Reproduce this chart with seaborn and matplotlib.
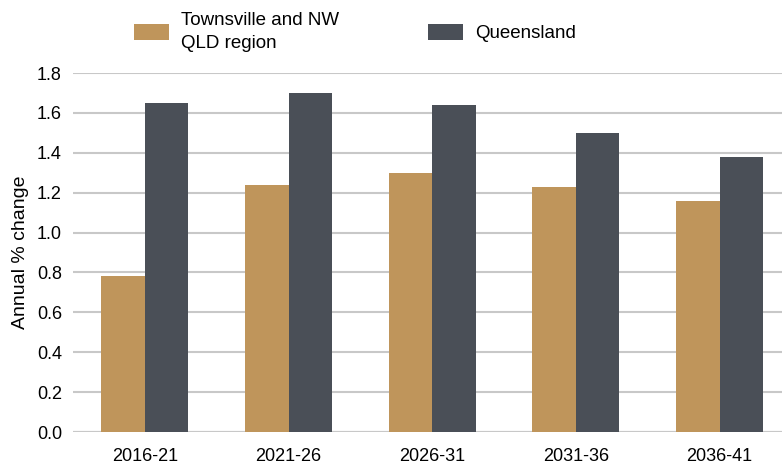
import pandas as pd
import matplotlib.pyplot as plt
import seaborn as sns

periods = ['2016-21', '2021-26', '2026-31', '2031-36', '2036-41']
townsville = [0.78, 1.24, 1.30, 1.23, 1.16]
queensland = [1.65, 1.70, 1.64, 1.50, 1.38]
series_names = ['Townsville and NW\nQLD region', 'Queensland']

df = pd.DataFrame({
    'period': periods * 2,
    'value': townsville + queensland,
    'series': [series_names[0]] * len(periods) + [series_names[1]] * len(periods),
})

sns.set_style('white')
plt.rcParams['font.family'] = ['Liberation Sans', 'DejaVu Sans']
plt.rcParams['text.color'] = 'black'
plt.rcParams['axes.labelcolor'] = 'black'
plt.rcParams['xtick.labelcolor'] = 'black'
plt.rcParams['ytick.labelcolor'] = 'black'

fig = plt.figure(figsize=(7.82, 4.71), dpi=100)
ax = fig.add_axes([0.0934, 0.0828, 0.9066, 0.7622])

sns.barplot(data=df, x='period', y='value', hue='series',
            palette=['#BF955B', '#4A4F57'], width=0.605, saturation=1,
            linewidth=0, ax=ax, legend=True)

ax.set_ylim(0, 1.8)
ax.set_xlim(-0.5, 4.435)
ax.set_yticks([i / 5 for i in range(10)])
ax.set_yticklabels([f'{i / 5:.1f}' for i in range(10)])
ax.yaxis.grid(True, color='#C8C8C8', linewidth=1.5)
ax.set_axisbelow(True)
for s in ax.spines.values():
    s.set_visible(False)
ax.axhline(0, color='#C8C8C8', linewidth=1.5, zorder=0)

ax.set_xlabel('')
ax.set_ylabel('Annual % change', fontsize=14, labelpad=5.5)
ax.tick_params(axis='x', length=7.2, width=1.5, color='#C8C8C8', labelsize=13, pad=4)
ax.tick_params(axis='y', length=0, labelsize=13, pad=8)

leg = ax.legend(loc='upper left', bbox_to_anchor=(125 / 782, 1 - 3 / 471),
                bbox_transform=fig.transFigure, ncol=2, frameon=False, borderpad=0,
                fontsize=13.5, handlelength=1.87, handleheight=1.0, columnspacing=4.7,
                handletextpad=0.64, title=None)
for t in leg.get_texts():
    t.set_linespacing(1.4)

fig.savefig('out.png', dpi=100)
